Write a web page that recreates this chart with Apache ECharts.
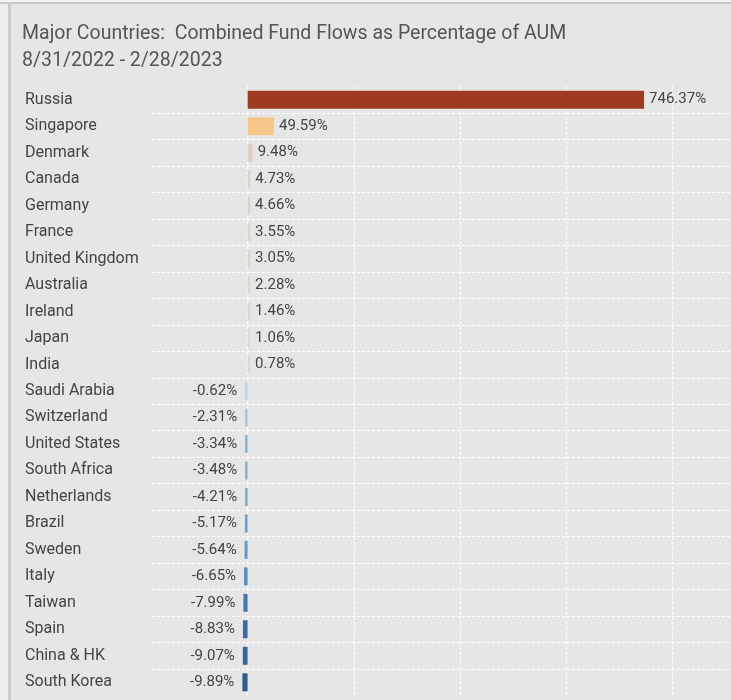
<!DOCTYPE html>
<html>
<head>
<meta charset="utf-8">
<script src="https://cdn.jsdelivr.net/npm/echarts@6/dist/echarts.min.js"></script>
<style>
html,body{margin:0;padding:0;background:#e6e6e6;}
#chart{width:731px;height:700px;}
</style>
</head>
<body>
<div id="chart"></div>
<script>
const countries = ["Russia","Singapore","Denmark","Canada","Germany","France","United Kingdom","Australia","Ireland","Japan","India","Saudi Arabia","Switzerland","United States","South Africa","Netherlands","Brazil","Sweden","Italy","Taiwan","Spain","China & HK","South Korea"];
const flowPct = [746.37,49.59,9.48,4.73,4.66,3.55,3.05,2.28,1.46,1.06,0.78,-0.62,-2.31,-3.34,-3.48,-4.21,-5.17,-5.64,-6.65,-7.99,-8.83,-9.07,-9.89];
const barColors = ["#9f3b22","#f6c78a","#dcd1be","#ddd3c2","#ddd3c2","#ded5c5","#ded5c5","#dfd7c8","#dfd8ca","#e0d9cc","#e0dacd","#b8d4e6","#9ec6e0","#82b4d8","#7fb1d6","#74a9d1","#6ba1cc","#6099c7","#568cbd","#4579ae","#386ba0","#356698","#2f5d8c"];
const gridTicks = [0,200,400,600,800];

const chart = echarts.init(document.getElementById('chart'), null, {renderer:'canvas'});
const font = 'Roboto';
const option = {
  backgroundColor: '#e6e6e6',
  animation: false,
  title: {
    text: 'Major Countries:  Combined Fund Flows as Percentage of AUM\n8/31/2022 - 2/28/2023',
    left: 22, top: 21, padding: 0,
    textStyle: {fontFamily: font, fontSize: 19.5, fontWeight: 'normal', color: '#555555', lineHeight: 27}
  },
  graphic: [
    {type:'rect', shape:{x:0,y:0,width:8,height:700}, style:{fill:'#eeeeee'}, z:-10},
    {type:'rect', shape:{x:0,y:0,width:731,height:2}, style:{fill:'#f2f2f2'}, z:-10},
    {type:'rect', shape:{x:0,y:2,width:731,height:2}, style:{fill:'#c9c9c9'}, z:-9},
    {type:'rect', shape:{x:8,y:2,width:3,height:698}, style:{fill:'#cbcbcb'}, z:-9}
  ],
  grid: {left: 152, right: 0, top: 86.5, bottom: 4.5, outerBoundsMode: 'none', containLabel: false},
  xAxis: {
    type: 'value', min: -180, max: 910,
    axisLine: {show:false}, axisTick: {show:false}, axisLabel: {show:false},
    splitLine: {show:false}
  },
  yAxis: {
    type: 'category', data: countries, inverse: true,
    axisLine: {show:false}, axisTick: {show:false},
    axisLabel: {align: 'left', margin: 127, fontFamily: font, fontSize: 16, color: '#444444'},
    splitLine: {show: true, showMinLine: false, showMaxLine: false, lineStyle: {color: '#ffffff', type: [3,2], width: 1.2}}
  },
  series: [{
    type: 'bar',
    barWidth: 18,
    barMinHeight: 2.5,
    z: 2,
    data: flowPct.map((v,i) => ({
      value: v,
      itemStyle: {color: barColors[i]},
      label: {show: true, position: v >= 0 ? 'right' : 'left', distance: v >= 0 ? 5 : 8,
        formatter: p => p.value.toFixed(2) + '%', fontFamily: font, fontSize: 15, color: '#444444'}
    })),
    markLine: {
      silent: true, symbol: 'none', z: 1,
      label: {show: false},
      lineStyle: {color: '#ffffff', type: [3,2], width: 1.2},
      data: gridTicks.map(t => ({xAxis: t}))
    }
  }]
};
chart.setOption(option);
</script>
</body>
</html>
